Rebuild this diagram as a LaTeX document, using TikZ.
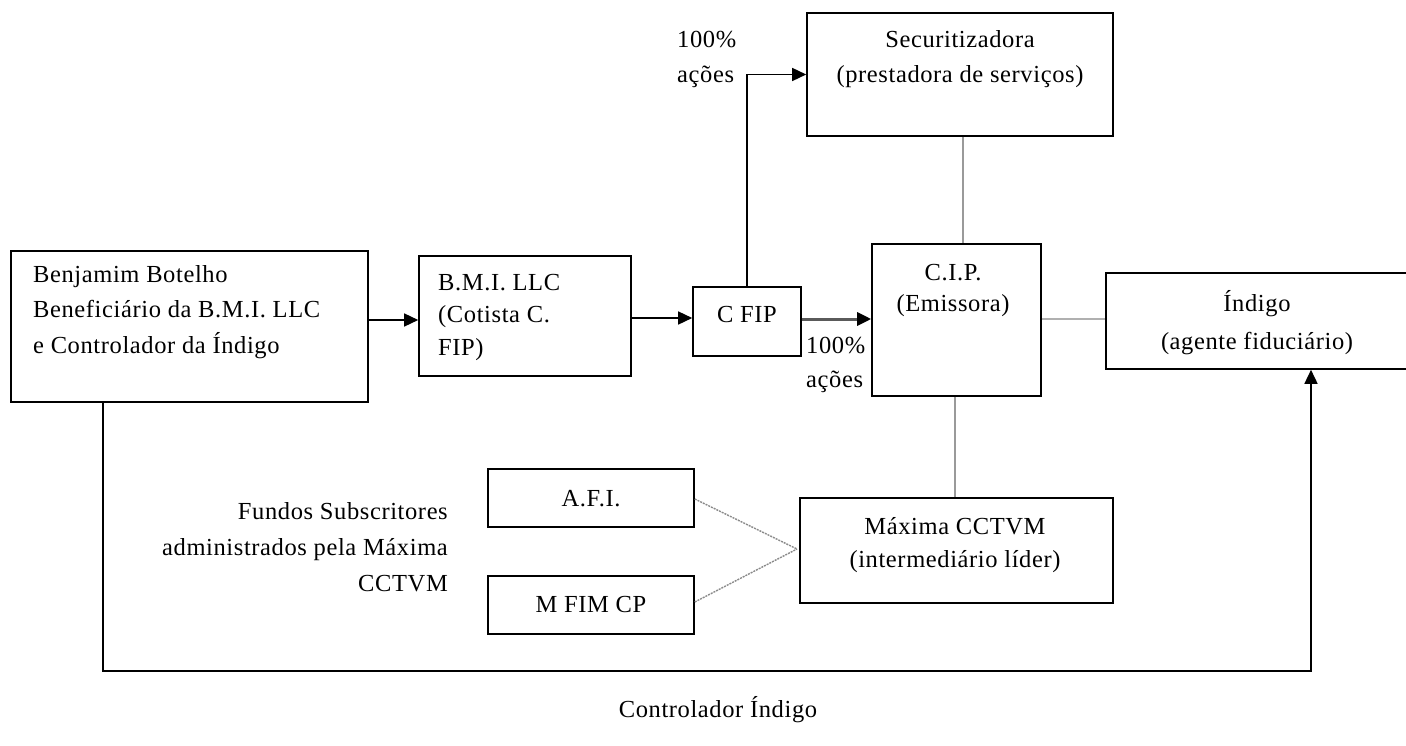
\documentclass[tikz,border=0pt]{standalone}
\usepackage{fontspec}
\setmainfont{Liberation Serif}[LetterSpace=2.5]
\usetikzlibrary{arrows.meta,fit}
\newcommand\firstln{\rule{0pt}{20pt}}
\definecolor{lgrey}{HTML}{9A9A9A}
\definecolor{mgrey}{HTML}{B0B0B0}
\definecolor{dgrey}{HTML}{5A5A5A}
\definecolor{dotgrey}{HTML}{8A8A8A}
\begin{document}
\begin{tikzpicture}[x=1pt,y=-1pt,
  box/.style={draw=black,line width=1.6pt,inner sep=0pt},
  txt/.style={inner sep=0pt,font=\fontsize{24.5}{35}\selectfont},
  arr/.style={line width=1.5pt,-{Triangle[length=14pt,width=13pt]}},
  thickarr/.style={draw=dgrey,line width=3pt,-{Triangle[length=14pt,width=13pt,fill=black,color=black]}},
  gline/.style={draw=lgrey,line width=1.2pt},
  gthick/.style={draw=mgrey,line width=2.5pt},
  dotl/.style={draw=dotgrey,line width=1.4pt,dash pattern=on 2pt off 1pt}]
\useasboundingbox (0,0) rectangle (1406,746);
% helper coordinates
\coordinate (y320) at (0,320);
\coordinate (y318) at (0,318);
\coordinate (y319) at (0,319);
\coordinate (y499) at (0,499);
\coordinate (y602) at (0,602);
\coordinate (c963) at (963,0);
\coordinate (c955) at (955,0);
\coordinate (conv) at (797,549);
\coordinate (bl) at (103,671);
\coordinate (br) at (1311,671);
% boxes
\node[box,fit={(11,251) (368,402)}] (ben) {};
\node[box,fit={(419,256) (631,376)}] (bmi) {};
\node[box,fit={(693,287) (801,356)}] (cfip) {};
\node[box,fit={(807,13) (1113,136)}] (sec) {};
\node[box,fit={(872,244) (1041,396)}] (cip) {};
\node[box,fit={(1106,273) (1412,369)}] (ind) {};
\node[box,fit={(488,469) (694,527)}] (afi) {};
\node[box,fit={(488,576) (694,634)}] (mfim) {};
\node[box,fit={(800,498) (1113,603)}] (max) {};
% texts
\node[txt,anchor=north west,align=left,font=\fontsize{24.5}{35.5}\selectfont] (bentxt) at (33,262)
  {\firstln Benjamim Botelho\\Beneficiário da B.M.I. LLC\\e Controlador da Índigo};
\node[txt,anchor=north west,align=left,font=\fontsize{24.5}{32.5}\selectfont] (bmitxt) at (438,270)
  {\firstln B.M.I. LLC\\(Cotista C.\\FIP)};
\node[txt,anchor=north,align=center] (cfiptxt) at (747,302) {\firstln C FIP};
\node[txt,anchor=north,align=center,font=\fontsize{24.5}{35}\selectfont] (sectxt) at (960,27)
  {\firstln Securitizadora\\(prestadora de serviços)};
\node[txt,anchor=north,align=center,font=\fontsize{24.5}{31}\selectfont] (ciptxt) at (953,260)
  {\firstln C.I.P.\\(Emissora)};
\node[txt,anchor=north,align=center,font=\fontsize{24.5}{38}\selectfont] (indtxt) at (1257,290)
  {\firstln Índigo\\(agente fiduciário)};
\node[txt,anchor=north,align=center,font=\fontsize{24.5}{33}\selectfont] (maxtxt) at (955,514)
  {\firstln Máxima CCTVM\\(intermediário líder)};
\node[txt,anchor=north,align=center] (afitxt) at (591,486) {\firstln A.F.I.};
\node[txt,anchor=north,align=center] (mfimtxt) at (591,592) {\firstln M FIM CP};
\node[txt,anchor=north east,align=right,font=\fontsize{24.5}{36}\selectfont] (fundos) at (448,499)
  {\firstln Fundos Subscritores\\administrados pela Máxima\\CCTVM};
\node[txt,anchor=north west,align=left,font=\fontsize{24.5}{35}\selectfont] (lab1) at (677,27)
  {\firstln 100\%\\ações};
\node[txt,anchor=north west,align=left,font=\fontsize{24.5}{34}\selectfont] (lab2) at (806,333)
  {\firstln 100\%\\ações};
\node[txt,anchor=north,align=center] (ctrl) at (718,696) {\firstln Controlador Índigo};
% connectors
\draw[arr] (ben.east |- y320) -- (bmi.west |- y320);
\draw[arr] (bmi.east |- y318) -- (cfip.west |- y318);
\draw[thickarr] (cfip.east |- y319) -- (cip.west |- y319);
\draw[arr] (cfip.north) |- (sec.west);
\draw[gline] (sec.south -| c963) -- (cip.north -| c963);
\draw[gthick] (cip.east |- y319) -- (ind.west |- y319);
\draw[gline] (cip.south -| c955) -- (max.north -| c955);
\draw[dotl] (afi.east |- y499) -- (conv);
\draw[dotl] (mfim.east |- y602) -- (conv);
\draw[arr] (ben.south -| bl) -- (bl) -- (br) -- (ind.south -| br);
\end{tikzpicture}
\end{document}
